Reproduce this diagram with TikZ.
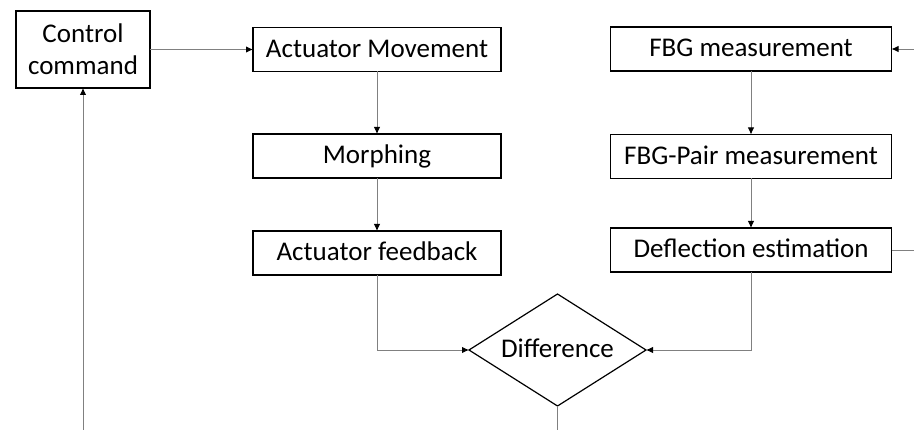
\documentclass[tikz,border=0pt]{standalone}
\usepackage{fontspec}
\setmainfont{Carlito}
\usetikzlibrary{shapes.geometric,arrows.meta}

\begin{document}
\begin{tikzpicture}[x=1pt, y=-1pt,
    blk/.style={draw=black, line width=1.2pt, minimum height=44pt, inner sep=0pt, outer sep=0pt,
      text height=19pt, text depth=3pt, font=\fontsize{27}{32}\selectfont},
    dec/.style={blk, shape=diamond, aspect=1.58, minimum width=177pt, minimum height=112pt},
    link/.style={draw=black!50, line width=0.9pt, >={Latex[length=7pt,width=6.5pt,black]}}]
    \def \lx {377}   % left column
    \def \rx {751}   % right column
    \useasboundingbox (0,0) rectangle (914,430);
    \node[blk, minimum width=134pt, minimum height=77pt, align=center, text height=, text depth=] (ctrl) at (83,49.5) {Control\\command};
    \node[blk, minimum width=248pt] (move) at (\lx,49.5) {Actuator Movement};
    \node[blk, minimum width=248pt] (morph) at (\lx,156) {Morphing};
    \node[blk, minimum width=248pt] (afb) at (\lx,253) {Actuator feedback};
    \node[blk, minimum width=281pt] (fbg) at (\rx,49) {FBG measurement};
    \node[blk, minimum width=281pt] (pair) at (\rx,156.5) {FBG-Pair measurement};
    \node[blk, minimum width=281pt] (defl) at (\rx,250) {Deflection estimation};
    \node[dec] (diff) at (557.5,350) {Difference};
    % loose ends at the border
    \coordinate (lo) at (83,430);
    \coordinate (out) at (557.5,430);
    \coordinate (rin) at (914,49);
    \coordinate (rout) at (914,250);
    \draw[link,->] (ctrl) -- (move);
    \foreach \a/\b in {move/morph, morph/afb, fbg/pair, pair/defl}
      \draw[link,->] (\a) -- (\b);
    \draw[link,->] (afb.south) |- (diff.west);
    \draw[link,->] (defl.south) |- (diff.east);
    \draw[link] (diff.south) -- (out);
    \draw[link,->] (lo) -- (ctrl.south);
    \draw[link] (defl.east) -- (rout);
    \draw[link,->] (rin) -- (fbg.east);
\end{tikzpicture}
\end{document}
